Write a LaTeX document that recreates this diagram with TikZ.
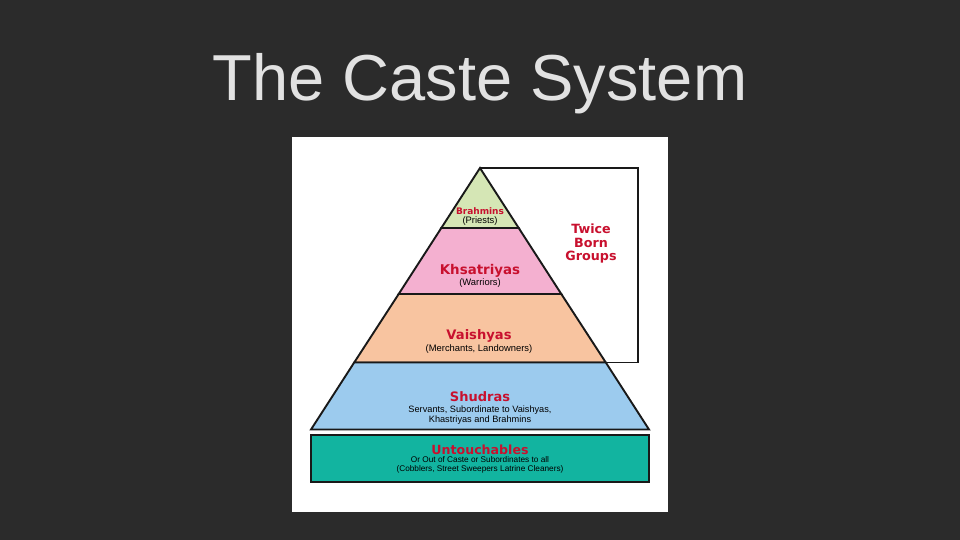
\documentclass[tikz,border=0pt]{standalone}
\usepackage{fontspec}
\setmainfont{Liberation Sans}
\newfontfamily\labfont{DejaVu Sans}
\definecolor{bgdark}{HTML}{2B2B2B}
\definecolor{titlegray}{HTML}{E2E2E2}
\definecolor{labred}{HTML}{C8102E}
\definecolor{brgreen}{HTML}{D5E6B5}
\definecolor{khpink}{HTML}{F4B0D0}
\definecolor{vapeach}{HTML}{F8C4A0}
\definecolor{shblue}{HTML}{9CCBEE}
\definecolor{unteal}{HTML}{12B4A0}
\tikzset{
  layer/.style={draw=black!90, line width=1.9pt, line join=miter},
  caste/.style={font=\labfont\bfseries, text=labred, inner sep=0pt, anchor=center},
  sub/.style={font=\fontsize{9.4}{10}\selectfont, text=black, inner sep=0pt, anchor=center, align=center},
}
\begin{document}
\begin{tikzpicture}[x=1pt,y=-1pt]
\useasboundingbox (0,0) rectangle (960,540);
\fill[bgdark] (0,0) rectangle (960,540);
\node[text=titlegray, font=\fontsize{65}{70}\selectfont, inner sep=0pt] (title) at (480,84) {The Caste System};
% white picture panel
\fill[white] (292,137) rectangle (668,512);
% coordinates of pyramid
\coordinate (apex) at (480,168);
\coordinate (l1) at (441.3,228); \coordinate (r1) at (518.7,228);
\coordinate (l2) at (398.7,294); \coordinate (r2) at (561.3,294);
\coordinate (l3) at (354.2,362.5); \coordinate (r3) at (605.8,362.5);
\coordinate (l4) at (311,429.5); \coordinate (r4) at (649,429.5);
\coordinate (bt) at (638,168); \coordinate (bb) at (638,362.5);
% twice born bracket box
\draw[black!90, line width=1.7pt, line join=miter] (apex) -- (bt) -- (bb) -- (r3);
% layers
\filldraw[layer, fill=brgreen] (apex) -- (r1) -- (l1) -- cycle;
\filldraw[layer, fill=khpink] (l1) -- (r1) -- (r2) -- (l2) -- cycle;
\filldraw[layer, fill=vapeach] (l2) -- (r2) -- (r3) -- (l3) -- cycle;
\filldraw[layer, fill=shblue] (l3) -- (r3) -- (r4) -- (l4) -- cycle;
\filldraw[layer, fill=unteal] (311,434.8) rectangle (649,481.8);
% labels
\node[caste, font=\labfont\bfseries\fontsize{9}{10}\selectfont] (brah) at (480,211) {Brahmins};
\node[sub] (brahs) at (480,221) {(Priests)};
\node[caste, font=\labfont\bfseries\fontsize{13.4}{14}\selectfont] (khs) at (480,271) {Khsatriyas};
\node[sub] (khss) at (480,283.5) {(Warriors)};
\node[caste, font=\labfont\bfseries\fontsize{13.1}{14}\selectfont] (vai) at (479,336) {Vaishyas};
\node[sub] (vais) at (479,349) {(Merchants, Landowners)};
\node[caste, font=\labfont\bfseries\fontsize{13}{14}\selectfont] (shu) at (480,397) {Shudras};
\node[sub, font=\fontsize{9.2}{9.4}\selectfont] (shus) at (480,415) {Servants, Subordinate to Vaishyas,\\Khastriyas and Brahmins};
\node[caste, font=\labfont\bfseries\fontsize{12.6}{13}\selectfont] (unt) at (480,449.5) {Untouchables};
\node[sub, font=\fontsize{8.25}{9}\selectfont] (unts) at (480,464.5) {Or Out of Caste or Subordinates to all\\(Cobblers, Street Sweepers Latrine Cleaners)};
\node[caste, align=center, font=\labfont\bfseries\fontsize{12.7}{13.6}\selectfont] (twice) at (591,243.5) {Twice\\Born\\Groups};
\end{tikzpicture}
\end{document}
